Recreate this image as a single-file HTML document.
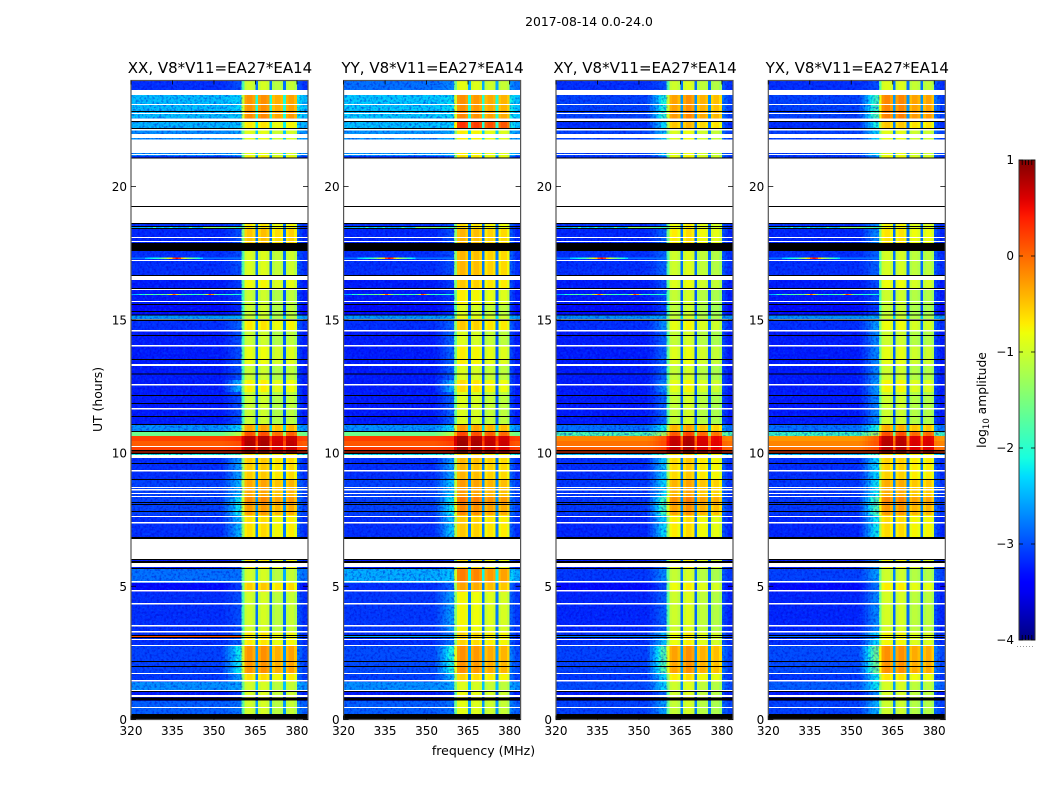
<!DOCTYPE html>
<html lang="en">
<head>
<meta charset="utf-8">
<title>2017-08-14 0.0-24.0</title>
<style>
html,body{margin:0;padding:0;background:#fff;}
svg{display:block;}
text{font-family:"DejaVu Sans","Liberation Sans",sans-serif;fill:#000;}
</style>
</head>
<body>
<svg id="fig" xmlns="http://www.w3.org/2000/svg" width="1050" height="800" viewBox="0 0 1050 800">
  <defs>
    <filter id="grain-light" x="0" y="0" width="1" height="1" color-interpolation-filters="sRGB">
      <feTurbulence type="fractalNoise" baseFrequency="0.42" numOctaves="2" seed="4"/>
      <feColorMatrix type="matrix" values="0 0 0 0 0  0 0 0 0 0.42  0 0 0 0 1  0 0 0 3.2 -1.45"/>
    </filter>
    <filter id="grain-dark" x="0" y="0" width="1" height="1" color-interpolation-filters="sRGB">
      <feTurbulence type="fractalNoise" baseFrequency="0.42" numOctaves="2" seed="11"/>
      <feColorMatrix type="matrix" values="0 0 0 0 0  0 0 0 0 0  0 0 0 0 0.78  0 0 0 3.2 -1.45"/>
    </filter>
  </defs>
  <text x="589" y="26" font-size="12.4" text-anchor="middle">2017-08-14 0.0-24.0</text>
  <text x="483.5" y="755" font-size="12.5" text-anchor="middle">frequency (MHz)</text>
  <text transform="translate(102,399.5) rotate(-90)" font-size="12.4" text-anchor="middle">UT (hours)</text>
  <text transform="translate(986,400) rotate(-90)" font-size="12.3" text-anchor="middle">log<tspan font-size="8.5" dy="3">10</tspan><tspan dy="-3"> amplitude</tspan></text>
  <g id="panels"></g>
  <g id="colorbar"></g>
</svg>
<script>
// ---------- chart data ----------
var panelTitles = ["XX, V8*V11=EA27*EA14", "YY, V8*V11=EA27*EA14", "XY, V8*V11=EA27*EA14", "YX, V8*V11=EA27*EA14"];
var xTicks = [320, 335, 350, 365, 380];
var yTicks = [0, 5, 10, 15, 20];
var colorTicks = [1, 0, -1, -2, -3, -4];

// start (top edge) of each time band, UT hours, descending
var bandTop = [24.00,23.43,22.83,22.57,22.42,22.20,21.14,18.41,17.58,16.49,16.12,15.55,15.18,14.95,14.58,14.05,13.34,12.74,12.29,11.05,10.79,10.64,10.45,10.26,10.11,10.00,9.81,8.99,8.35,8.05,7.68,6.85,5.65,5.13,4.78,3.28,2.76,1.71,1.41,1.03,0.69];

// log10 amplitude of the off-band channels per time band
var lowXX = [-3.15,-2.4,-2.4,-2.6,-2.45,-2.65,-3.15,-3.2,-3.15,-3.25,-3.25,-3.35,-2.6,-3.15,-3.25,-3.25,-3.25,-3.25,-3.25,-2.65,-1.6,0.2,0.07,0.22,0.35,-2.1,-3.15,-3.05,-3.05,-3.05,-3.15,-3.25,-2.8,-3.35,-3.15,-3.15,-3.05,-3.1,-2.65,-3.25,-2.9];
var lowYY = [-2.8,-2.35,-2.35,-2.5,-2.4,-2.6,-3.15,-3.2,-3.15,-3.25,-3.25,-3.35,-2.6,-3.15,-3.25,-3.25,-3.25,-3.25,-3.25,-2.65,-1.6,0.22,0.1,0.25,0.35,-2.2,-3.15,-3.05,-3.05,-3.05,-3.15,-3.25,-2.5,-3.15,-3.1,-3.15,-3.0,-3.05,-2.65,-3.25,-2.9];
var lowXY = [-3.15,-3.05,-3.05,-3.15,-3.15,-3.05,-3.15,-3.2,-3.15,-3.25,-3.25,-3.35,-2.65,-3.15,-3.25,-3.25,-3.25,-3.25,-3.25,-2.8,-1.8,-0.15,-0.05,0.05,0.3,-2.4,-3.15,-3.1,-3.1,-3.1,-3.2,-3.25,-3.1,-3.35,-3.2,-3.15,-3.05,-3.1,-3.0,-3.25,-3.05];
var lowYX = [-3.15,-3.05,-3.05,-3.15,-3.15,-3.05,-3.15,-3.2,-3.15,-3.25,-3.25,-3.35,-2.65,-3.15,-3.25,-3.25,-3.25,-3.25,-3.25,-2.8,-1.9,-0.25,-0.15,-0.05,0.25,-2.4,-3.15,-3.1,-3.1,-3.1,-3.2,-3.25,-3.05,-3.35,-3.2,-3.15,-3.0,-3.1,-2.9,-3.25,-3.05];

// log10 amplitude on the shoulder just below the bright band
var shoulderXX = [-3.0,-2.3,-2.3,-2.5,-2.35,-2.55,-3.0,-3.0,-3.0,-3.1,-3.1,-3.2,-2.5,-2.9,-3.0,-3.0,-3.0,-2.5,-3.0,-2.3,-1.2,0.3,0.15,0.3,0.4,-1.9,-2.6,-2.5,-2.2,-2.2,-2.5,-3.1,-2.8,-3.1,-3.0,-2.9,-2.2,-2.6,-2.55,-3.1,-2.8];
var shoulderYY = [-2.7,-2.25,-2.25,-2.4,-2.3,-2.5,-3.0,-3.0,-3.0,-3.1,-3.1,-3.2,-2.5,-2.9,-2.9,-2.9,-2.9,-2.5,-2.9,-2.3,-1.2,0.3,0.2,0.3,0.4,-1.9,-2.6,-2.4,-2.2,-2.2,-2.4,-3.1,-2.4,-2.9,-2.6,-2.8,-2.1,-2.5,-2.55,-3.1,-2.8];
var shoulderXY = [-3.0,-2.1,-2.0,-2.2,-2.3,-2.4,-2.9,-2.9,-2.9,-3.0,-3.0,-3.1,-2.5,-2.7,-2.9,-2.9,-2.9,-2.7,-2.9,-2.2,-1.2,0.1,0.15,0.2,0.35,-1.9,-2.4,-2.3,-1.9,-1.9,-2.3,-2.9,-2.7,-3.0,-2.9,-2.4,-1.8,-2.3,-2.3,-2.9,-2.6];
var shoulderYX = [-3.0,-1.9,-1.8,-2.1,-2.1,-2.3,-2.7,-2.7,-2.9,-3.0,-3.0,-3.1,-2.5,-2.6,-2.7,-2.7,-2.7,-2.6,-2.7,-2.1,-1.2,0.05,0.1,0.15,0.3,-1.9,-2.3,-2.2,-1.8,-1.8,-2.2,-2.7,-2.6,-2.8,-2.7,-2.3,-1.6,-2.2,-2.2,-2.7,-2.5];

// log10 amplitude of the bright 360-380 MHz band per time band
var highXX = [-1.0,-0.25,-0.2,-0.05,-0.7,-0.9,-0.7,-0.5,-0.95,-0.8,-1.05,-1.05,-1.05,-0.7,-1.05,-0.85,-1.05,-0.75,-1.05,-0.35,0.1,0.75,0.78,0.72,0.85,-0.6,-0.55,-0.35,-0.2,-0.3,-0.65,-0.7,-1.0,-0.55,-1.0,-0.7,-0.25,-0.65,-1.0,-0.95,-1.0];
var highYY = [-0.95,-0.3,-0.25,-0.1,0.2,-0.8,-0.7,-0.5,-0.5,-0.6,-0.8,-1.0,-0.9,-0.6,-1.0,-0.8,-1.0,-0.7,-1.0,-0.35,0.1,0.75,0.78,0.72,0.85,-0.6,-0.5,-0.35,-0.15,-0.25,-0.6,-0.7,-0.2,-0.4,-0.85,-0.65,-0.3,-0.65,-1.0,-0.9,-0.95];
var highXY = [-1.0,-0.3,-0.25,-0.2,-0.5,-0.9,-0.8,-0.7,-1.0,-0.9,-1.05,-1.1,-1.05,-0.85,-1.05,-0.9,-1.05,-0.85,-1.05,-0.4,0.1,0.7,0.72,0.7,0.85,-0.6,-0.6,-0.4,-0.2,-0.3,-0.7,-0.8,-1.05,-0.8,-1.0,-0.8,-0.3,-0.7,-1.0,-1.0,-1.05];
var highYX = [-0.95,-0.2,-0.15,-0.1,-0.55,-0.9,-0.8,-0.7,-1.0,-0.85,-1.05,-1.1,-1.05,-0.85,-1.05,-0.9,-1.05,-0.8,-1.05,-0.4,0.1,0.7,0.72,0.7,0.85,-0.6,-0.6,-0.4,-0.2,-0.3,-0.65,-0.8,-1.05,-0.75,-1.0,-0.8,-0.25,-0.7,-1.0,-1.0,-1.05];

// per sub-band log10 offset for the four 5 MHz sub-bands
var subOffsetXX = [0.02,0.05,-0.12,-0.05];
var subOffsetYY = [0.1,0.05,-0.05,-0.1];
var subOffsetXY = [0,0.1,-0.08,-0.15];
var subOffsetYX = [0.05,0.05,-0.1,-0.1];

// bandpass per 1 MHz channel from 320 MHz: 0 = off-band, 1 = fully in band
var bandpass = [0,0,0,0,0,0,0,0,0,0,0,0,0,0,0,0,0,0,0,0,0,0,0,0,0,0,0,0,0,0,0,0,0,0,0,0,0,0,0,0,
  0.6,0.97,1,1,0.95,0.15,0.95,1,1,0.96,0.15,0.95,1,1,0.96,0.15,0.95,1,1,0.93,0.1,0.05,0,0];
var shoulderShape = [0,0,0,0,0,0,0,0,0,0,0,0,0,0,0,0,0,0,0,0,0,0,0,0,0,0,0,0,0,0,0,0,0,0.1,0.25,0.4,0.6,0.8,1,1,
  1,0,0,0,0,0,0,0,0,0,0,0,0,0,0,0,0,0,0,0,0,0,0,0];

// flagged (no data) intervals: start and end, UT hours
var flagStart = [23.62,23.10,22.76,22.55,22.16,21.97,21.76,21.22,21.07,19.23,18.10,17.95,17.24,16.64,16.15,15.70,15.03,14.62,14.05,13.34,12.59,11.69,10.26,9.92,9.36,8.93,8.72,8.65,8.50,8.39,7.64,7.41,6.77,5.87,5.20,4.86,4.37,3.55,3.32,3.02,2.80,1.74,1.48,1.11,0.92,0.47];
var flagEnd = [23.43,23.06,22.72,22.46,22.10,21.82,21.26,21.18,19.27,18.63,18.07,17.92,17.20,16.49,16.12,15.67,14.99,14.56,14.00,13.26,12.53,11.63,10.23,9.81,9.31,8.99,8.69,8.59,8.46,8.35,7.60,7.35,6.02,5.72,5.14,4.80,4.32,3.49,3.26,2.98,2.76,1.71,1.43,1.07,0.84,0.43];

// zero-amplitude rows drawn black: start and end, UT hours
var zeroStart = [22.83,22.46,22.20,21.09,19.27,18.63,18.52,18.44,17.88,16.68,16.19,15.59,15.33,15.20,15.01,14.43,13.53,12.98,12.18,11.88,11.39,11.09,10.83,10.11,10.02,9.62,9.02,8.16,8.09,7.82,6.85,6.02,5.95,5.68,3.17,3.10,2.20,2.01,1.07,0.83,0.21];
var zeroEnd = [22.80,22.42,22.16,21.05,19.23,18.59,18.48,18.41,17.58,16.64,16.15,15.55,15.29,15.16,14.95,14.39,13.49,12.95,12.14,11.84,11.35,11.05,10.79,10.06,9.96,9.59,8.99,8.12,8.05,7.79,6.77,5.98,5.87,5.65,3.13,3.06,2.16,1.97,1.03,0.71,0];

// narrow-band interference rows (UT, per-channel log10 amplitude over 320-360 MHz)
var spikeUT = [18.46,17.31,15.95,3.12];
var spikeA = [-2.6,-2.6,-2.6,-2.5,-2.5,-2.6,-2.4,-2.6,-2.0,-2.6,-2.5,-2.3,-2.6,-2.5,-2.1,-2.6,-2.4,-2.6,-2.5,-2.6,-2.5,-1.9,-2.4,-2.5,-2.6,-2.4,-1.5,-1.4,-1.5,-1.4,-1.5,-1.6,-1.4,-1.5,-1.6,-1.8,-1.7,-1.6,-2.0,-1.8];
var spikeB = [-2.8,-2.8,-2.8,-2.8,-2.8,-2.4,-2.3,-2.2,-2.1,-2.0,-1.9,-1.6,-1.3,-1.0,-0.6,0.1,0.5,0.2,-0.5,-1.0,-1.3,-1.5,-1.7,-1.9,-2.1,-2.3,-2.8,-2.8,-2.8,-2.8,-2.8,-2.8,-2.8,-2.8,-2.8,-2.8,-2.8,-2.8,-2.8,-2.8];
var spikeC = [-2.6,-2.5,-2.4,-1.9,-2.2,-1.7,-1.9,-1.6,-2.0,-1.7,-1.8,-1.5,-1.8,-1.2,-0.7,0.1,-0.6,-1.4,-1.9,-1.7,-2.0,-1.8,-2.1,-1.9,-1.7,-2.0,-1.6,-1.0,0.2,-0.3,-1.5,-1.9,-2.0,-1.8,-2.1,-2.0,-1.9,-2.1,-2.0,-2.2];
var spikeD = [0.15,0.15,0.15,0.15,0.15,0.15,0.15,0.15,0.15,0.15,0.15,0.15,0.15,0.15,0.15,0.15,0.15,0.15,0.15,0.15,0.15,0.15,0.15,0.15,0.15,0.15,0.15,0.15,0.15,0.15,0.15,0.15,0.1,0.1,0.1,0.1,0.1,0.1,0.1,0.1];
var spikeDOffset = [0,-2.7,-2.9,-3.0];

// ---------- layout + scales ----------
var lowSets = [lowXX, lowYY, lowXY, lowYX];
var shoulderSets = [shoulderXX, shoulderYY, shoulderXY, shoulderYX];
var highSets = [highXX, highYY, highXY, highYX];
var subSets = [subOffsetXX, subOffsetYY, subOffsetXY, subOffsetYX];
var spikeSets = [spikeA, spikeB, spikeC, spikeD];
var plotLefts = [131, 343.6, 556, 768.3];
var plotWidth = 177, plotTop = 80.5, plotBottom = 719.5;
var SVGNS = "http://www.w3.org/2000/svg";

function yOf(ut) { return Math.max(plotTop, plotBottom - ut * 26.65); }
function xOf(left, mhz) { return left + (mhz - 320) * plotWidth / 64; }
function clamp01(v) { return Math.max(0, Math.min(1, v)); }
function jet(t) {
  t = clamp01(t);
  var r = t < 0.35 ? 0 : t < 0.66 ? (t - 0.35) / 0.31 : t < 0.89 ? 1 : 1 - (t - 0.89) / 0.11 * 0.5;
  var g = t < 0.125 ? 0 : t < 0.375 ? (t - 0.125) / 0.25 : t < 0.64 ? 1 : t < 0.91 ? 1 - (t - 0.64) / 0.27 : 0;
  var b = t < 0.11 ? 0.5 + t / 0.11 * 0.5 : t < 0.34 ? 1 : t < 0.65 ? 1 - (t - 0.34) / 0.31 : 0;
  return "rgb(" + Math.round(r * 255) + "," + Math.round(g * 255) + "," + Math.round(b * 255) + ")";
}
function colorOf(level) { return jet((level + 4) / 5); }
function make(tag, parent, attrs) {
  var el = document.createElementNS(SVGNS, tag);
  for (var k in attrs) el.setAttribute(k, attrs[k]);
  parent.appendChild(el);
  return el;
}
function subIndex(ch) { return ch < 45 ? 0 : ch < 50 ? 1 : ch < 55 ? 2 : 3; }
function cellLevel(p, b, ch) {
  var low = lowSets[p][b], sh = shoulderSets[p][b], hi = highSets[p][b] + subSets[p][subIndex(ch)];
  var base = low + (sh - low) * shoulderShape[ch];
  return base + (hi - base) * bandpass[ch];
}

// ---------- draw panels ----------
var panelsRoot = document.getElementById("panels");
plotLefts.forEach(function (left, p) {
  var g = make("g", panelsRoot, {});
  
  

  var clipId = "clip" + p;
  var defs = make("clipPath", g, { id: clipId });
  make("rect", defs, { x: left, y: plotTop, width: plotWidth, height: plotBottom - plotTop });

  var cells = make("g", g, { "clip-path": "url(#" + clipId + ")", "shape-rendering": "crispEdges" });
  
  

  function drawBandCells(strong) {
    bandTop.forEach(function (ut, b) {
      var isStrong = lowSets[p][b] > -1.7;
      if (isStrong !== strong) return;
      var nextUT = b + 1 < bandTop.length ? bandTop[b + 1] : 0;
      var y0 = yOf(ut), y1 = yOf(nextUT);
      for (var ch = 0; ch < 64; ch++) {
        var cell = make("rect", cells, {
          x: xOf(left, 320 + ch), y: y0,
          width: plotWidth / 64 + 0.02, height: y1 - y0,
          fill: colorOf(cellLevel(p, b, ch))
        });
        
        
      }
    });
  }
  drawBandCells(false);

  // receiver-noise speckle over the weak off-band channels
  [[320, 360.2], [380.2, 384]].forEach(function (range) {
    [["grain-light", 0.3], ["grain-dark", 0.45]].forEach(function (f) {
      var grain = make("rect", cells, {
        x: xOf(left, range[0]), y: plotTop,
        width: xOf(left, range[1]) - xOf(left, range[0]), height: plotBottom - plotTop,
        filter: "url(#" + f[0] + ")", opacity: f[1]
      });
      
      
    });
  });
  drawBandCells(true);

  spikeUT.forEach(function (ut, s) {
    var levels = spikeSets[s];
    levels.forEach(function (lv, ch) {
      var shifted = s === 3 ? lv + spikeDOffset[p] : lv;
      var sc = make("rect", cells, {
        x: xOf(left, 320 + ch), y: yOf(ut) - 0.6,
        width: plotWidth / 64 + 0.02, height: 1.3, fill: colorOf(shifted)
      });
      
      
    });
  });

  flagStart.forEach(function (ut, i) {
    var fr = make("rect", cells, {
      x: left, y: yOf(ut), width: plotWidth, height: yOf(flagEnd[i]) - yOf(ut), fill: "#fff"
    });
    
    
  });
  zeroStart.forEach(function (ut, i) {
    var zr = make("rect", cells, {
      x: left, y: yOf(ut), width: plotWidth, height: Math.max(1, yOf(zeroEnd[i]) - yOf(ut)), fill: "#000"
    });
    
    
  });

  var frame = make("rect", g, {
    x: left, y: plotTop, width: plotWidth, height: plotBottom - plotTop,
    fill: "none", stroke: "#555", "stroke-width": 1.2
  });
  
  

  var title = make("text", g, { x: left + plotWidth / 2 + 0.5, y: 73, "font-size": 15, "text-anchor": "middle" });
  title.textContent = panelTitles[p];
  
  

  xTicks.forEach(function (t) {
    var x = xOf(left, t);
    var tk = make("path", g, { d: "M" + x + " " + plotBottom + "v-4M" + x + " " + plotTop + "v4", stroke: "#000", "stroke-width": 0.8, fill: "none" });
    
    
    var lb = make("text", g, { x: x, y: 735, "font-size": 12, "text-anchor": "middle" });
    lb.textContent = t;
    
    
  });
  yTicks.forEach(function (t) {
    var y = yOf(t);
    var tk = make("path", g, { d: "M" + left + " " + y + "h5M" + (left + plotWidth) + " " + y + "h-5", stroke: "#000", "stroke-width": 0.8, fill: "none" });
    
    
    var lb = make("text", g, { x: left - 4, y: y + 4.5, "font-size": 12, "text-anchor": "end" });
    lb.textContent = t;
    
    
  });
});

// ---------- colour bar ----------
var cb = document.getElementById("colorbar");
var cbX = 1019, cbW = 16, cbTop = 160, cbBottom = 640;
function cbY(v) { return cbBottom - (v + 4) / 5 * (cbBottom - cbTop); }
var defsEl = document.querySelector("defs");
var grad = make("linearGradient", defsEl, { id: "jet-grad", x1: 0, y1: 1, x2: 0, y2: 0 });
for (var i = 0; i <= 50; i++) {
  make("stop", grad, { offset: i / 50, "stop-color": jet(i / 50) });
}
var cbRect = make("rect", cb, { x: cbX, y: cbTop, width: cbW, height: cbBottom - cbTop, fill: "url(#jet-grad)", stroke: "#333", "stroke-width": 1 });


colorTicks.forEach(function (t) {
  var y = cbY(t);
  var tk = make("path", cb, { d: "M" + cbX + " " + y + "h4M" + (cbX + cbW) + " " + y + "h-4", stroke: "#000", "stroke-width": 0.8, fill: "none" });
  
  
  var lb = make("text", cb, { x: cbX - 5, y: y + 4, "font-size": 12, "text-anchor": "end" });
  lb.textContent = String(t).replace("-", "\u2212");
  
  
});
[0.2, 0.4, 0.6, 0.8].forEach(function (f) {
  var tx = cbX + cbW * f;
  var mt = make("path", cb, { d: "M" + tx + " " + cbTop + "v5M" + tx + " " + cbBottom + "v-5", stroke: "#000", "stroke-width": 0.8, fill: "none" });
  
  
});
var dots = make("path", cb, { d: "M1017 646.5h18", stroke: "#999", "stroke-width": 1, "stroke-dasharray": "1 2", fill: "none" });


</script>
</body>
</html>
